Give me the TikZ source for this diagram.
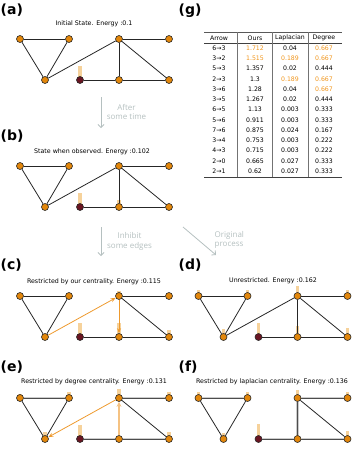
\documentclass[tikz,border=0pt]{standalone}
\usepackage{fontspec}
\setmainfont{DejaVu Sans}
\newfontfamily\notefont{Open Sans}
\usepackage{tikz}
\usetikzlibrary{arrows.meta}
\pgfdeclarelayer{background}
\pgfsetlayers{background,main}

\definecolor{nodeorange}{HTML}{E3870B}
\definecolor{sinkred}{HTML}{6A1522}
\definecolor{barcolor}{HTML}{F6D29B}
\definecolor{floworange}{HTML}{EE9A2E}
\definecolor{notegray}{HTML}{B5C0C0}
\definecolor{valorange}{HTML}{F0961E}

\tikzset{
    vert/.style={circle, draw=black!85, line width=0.6pt, fill=nodeorange, minimum size=7pt, inner sep=0pt},
    sink/.style={vert, fill=sinkred},
    edge/.style={draw=black!85, line width=0.8pt},
    gedge/.style={draw=black!70, line width=0.8pt, preaction={draw=gray!40, line width=2.2pt}},
    flow/.style={draw=floworange, line width=0.8pt, -{Stealth[length=5pt, width=4pt]}},
    softflow/.style={draw=floworange!60, line width=1.8pt, -{Stealth[length=5pt, width=5pt]}},
    timearrow/.style={draw=notegray, line width=0.8pt, -{Straight Barb[length=3pt, width=6pt]}},
    note/.style={font=\notefont\fontsize{8}{9.5}\selectfont, text=notegray, inner sep=0pt},
    title/.style={font=\fontsize{6.3}{7}\selectfont, inner sep=0pt},
    tag/.style={font=\fontsize{14}{16}\selectfont\bfseries, anchor=west, inner sep=0pt},
    cell/.style={font=\fontsize{6.2}{7}\selectfont, inner sep=0pt},
    bar/.style={fill=barcolor}
}

\begin{document}
\begin{tikzpicture}[x=1pt, y=-1pt]
    \useasboundingbox (0,0) rectangle (357,451);

    % Panel labels and titles
    \node[tag] (taga) at (0.5,10) {(a)};
    \node[tag] (tagb) at (0.5,136) {(b)};
    \node[tag] (tagc) at (0.5,265) {(c)};
    \node[tag] (tagd) at (178.5,265) {(d)};
    \node[tag] (tage) at (0.5,367) {(e)};
    \node[tag] (tagf) at (178.5,367) {(f)};
    \node[tag] (tagg) at (178.5,11) {(g)};

    \node[title] (titlea) at (94,24) {Initial State. Energy :0.1};
    \node[title] (titleb) at (92,152) {State when observed. Energy :0.102};
    \node[title] (titlec) at (94,282) {Restricted by our centrality. Energy :0.115};
    \node[title] (titled) at (273,281) {Unrestricted. Energy :0.162};
    \node[title] (titlee) at (94,382) {Restricted by degree centrality. Energy :0.131};
    \node[title] (titlef) at (272,382) {Restricted by laplacian centrality. Energy :0.136};

    % Graph nodes of every panel
    \foreach \p/\dx/\dy in {a/0/0, b/0/127, c/0/257, d/178.5/257, e/0/359, f/178.5/359} {
        \foreach \n/\x/\y in {0/20/39, 1/69/39, 2/45/80, 3/119/39, 4/169/39, 5/169/80, 6/119/80}
            \node[vert] (\p\n) at (\x+\dx,\y+\dy) {};
        \node[sink] (\p7) at (80+\dx,80+\dy) {};
    }

    % Bars
    \begin{pgfonlayer}{background}
        \foreach \v/\h in {a7/14, b7/14, b6/7, c7/14, c3/5, c6/14, c5/7,
                           d0/6, d1/6, d2/8, d3/10, d4/6, d5/9, d6/11, d7/14,
                           e0/4, e1/6, e2/7, e3/9, e4/6, e5/7, e7/14,
                           f0/6, f1/6, f2/6, f3/8, f4/6, f5/8, f6/10, f7/15}
            \fill[bar] ([xshift=-1.7pt]\v.center) rectangle ++(3.4,-\h);
    \end{pgfonlayer}

    % Edges
    \foreach \p in {a,b,d}
        \foreach \u/\v in {0/1, 0/2, 1/2, 2/3, 3/4, 3/5, 3/6, 7/6, 6/5}
            \draw[edge] (\p\u) -- (\p\v);

    \foreach \u/\v in {0/1, 0/2, 1/2, 3/4, 3/5, 7/6, 6/5}
        \draw[edge] (c\u) -- (c\v);
    \draw[flow] (c2) -- (c3);
    \draw[flow] (c3) -- (c6);

    \foreach \u/\v in {0/2, 1/2, 3/5}
        \draw[edge] (e\u) -- (e\v);
    \foreach \u/\v in {0/1, 3/4, 7/6, 6/5}
        \draw[gedge] (e\u) -- (e\v);
    \draw[flow] (e3) -- (e2);
    \draw[softflow] (e6) -- (e3);

    \foreach \u/\v in {0/2, 1/2, 3/5}
        \draw[edge] (f\u) -- (f\v);
    \foreach \u/\v in {0/1, 3/4, 3/6, 7/6, 6/5}
        \draw[gedge] (f\u) -- (f\v);

    % Steps between panels
    \coordinate (waits) at (101,97);
    \coordinate (waite) at (101,128);
    \draw[timearrow] (waits) -- (waite);
    \node[note, align=center] (after) at (126.5,112) {After\\some time};

    \coordinate (inhibits) at (101,227);
    \coordinate (inhibite) at (101,256);
    \draw[timearrow] (inhibits) -- (inhibite);
    \node[note, align=center] (inhibit) at (129.5,241.5) {Inhibit\\some edges};

    \coordinate (origs) at (183,227);
    \coordinate (orige) at (216,255);
    \draw[timearrow] (origs) -- (orige);
    \node[note, align=left, anchor=west] (orig) at (214.5,240) {Original\\process};

    % Table
    \coordinate (tl) at (204,32);
    \coordinate (tr) at (342,32);
    \coordinate (hl) at (204,43);
    \coordinate (hr) at (342,43);
    \coordinate (bl) at (204,177);
    \coordinate (br) at (342,177);
    \draw[black!65, line width=0.6pt] (tl) -- (tr);
    \draw[black!75, line width=0.7pt] (hl) -- (hr);
    \draw[black!75, line width=0.7pt] (bl) -- (br);
    \foreach \x [count=\i] in {237,272,308} {
        \coordinate (vt\i) at (\x,32);
        \coordinate (vb\i) at (\x,177);
        \draw[black!55, line width=0.6pt] (vt\i) -- (vb\i);
    }

    \node[cell] (harrow) at (219,38) {Arrow};
    \node[cell] (hours) at (255,38) {Ours};
    \node[cell] (hlap) at (290,38) {Laplacian};
    \node[cell] (hdeg) at (324,38) {Degree};

    \foreach \arr/\ours/\co/\lap/\cl/\dgr/\cd [count=\r from 0] in {
        6→3/1.712/valorange/0.04/black/0.667/valorange,
        3→2/1.515/valorange/0.189/valorange/0.667/valorange,
        5→3/1.357/black/0.02/black/0.444/black,
        2→3/1.3/black/0.189/valorange/0.667/valorange,
        3→6/1.28/black/0.04/black/0.667/valorange,
        3→5/1.267/black/0.02/black/0.444/black,
        6→5/1.13/black/0.003/black/0.333/black,
        5→6/0.911/black/0.003/black/0.333/black,
        7→6/0.875/black/0.024/black/0.167/black,
        3→4/0.753/black/0.003/black/0.222/black,
        4→3/0.715/black/0.003/black/0.222/black,
        2→0/0.665/black/0.027/black/0.333/black,
        2→1/0.62/black/0.027/black/0.333/black} {
        \node[cell] (arr\r) at (219,48+\r*10.25) {\arr};
        \node[cell, text=\co] (ours\r) at (255,48+\r*10.25) {\ours};
        \node[cell, text=\cl] (lap\r) at (290,48+\r*10.25) {\lap};
        \node[cell, text=\cd] (deg\r) at (324,48+\r*10.25) {\dgr};
    }
\end{tikzpicture}
\end{document}
